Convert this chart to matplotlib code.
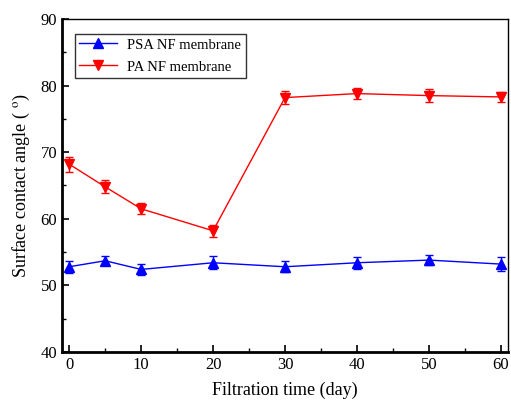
import matplotlib
matplotlib.use("Agg")
import matplotlib.pyplot as plt
from matplotlib.ticker import MultipleLocator
from matplotlib.lines import Line2D

plt.rcParams['font.family'] = ['Liberation Serif', 'DejaVu Serif']
plt.rcParams['mathtext.fontset'] = 'stix'

days = [0, 5, 10, 20, 30, 40, 50, 60]
psa = [52.8, 53.7, 52.4, 53.4, 52.8, 53.4, 53.8, 53.2]
psa_err = [0.9, 0.7, 0.8, 1.0, 0.8, 0.9, 0.8, 1.0]
pa = [68.2, 64.8, 61.5, 58.2, 78.2, 78.8, 78.5, 78.3]
pa_err = [1.1, 1.0, 0.8, 0.9, 1.0, 0.8, 1.0, 0.8]
labels = ['PSA NF membrane', 'PA NF membrane']

fig = plt.figure(figsize=(5.11, 4.01), dpi=100)
ax = fig.add_axes([62/511, 1-352/401, (508-62)/511, (352-19)/401])

ax.errorbar(days, psa, yerr=psa_err, color='#0000ff', marker='^', markersize=7,
            linewidth=1, elinewidth=1, capsize=3, capthick=1)
ax.errorbar(days, pa, yerr=pa_err, color='#ff0000', marker='v', markersize=7,
            linewidth=1, elinewidth=1, capsize=3, capthick=1)

ax.set_xlim(-1, 61)
ax.set_ylim(40, 90)
ax.xaxis.set_major_locator(MultipleLocator(10))
ax.xaxis.set_minor_locator(MultipleLocator(5))
ax.yaxis.set_major_locator(MultipleLocator(10))
ax.yaxis.set_minor_locator(MultipleLocator(5))
ax.tick_params(which='both', direction='in', top=False, right=False, labelsize=12)
ax.tick_params(which='major', length=5, width=1.2)
ax.tick_params(which='minor', length=3, width=1)
for s in ['left', 'bottom']:
    ax.spines[s].set_linewidth(2)
for s in ['top', 'right']:
    ax.spines[s].set_linewidth(1)

ax.set_xlabel('Filtration time (day)', fontsize=13, labelpad=6)
ax.set_ylabel('Surface contact angle ( $^{\\rm o}$)', fontsize=13, labelpad=6)

handles = [Line2D([], [], color='#0000ff', marker='^', markersize=7, linewidth=1),
           Line2D([], [], color='#ff0000', marker='v', markersize=7, linewidth=1)]
leg = ax.legend(handles, labels, loc='upper left', bbox_to_anchor=(0.029, 0.955),
                borderaxespad=0, fontsize=10.5, frameon=True, fancybox=False,
                edgecolor='black', handlelength=2.6, handletextpad=0.7,
                borderpad=0.3, labelspacing=0.6)
leg.get_frame().set_linewidth(1)

fig.savefig('out.png', dpi=100)
